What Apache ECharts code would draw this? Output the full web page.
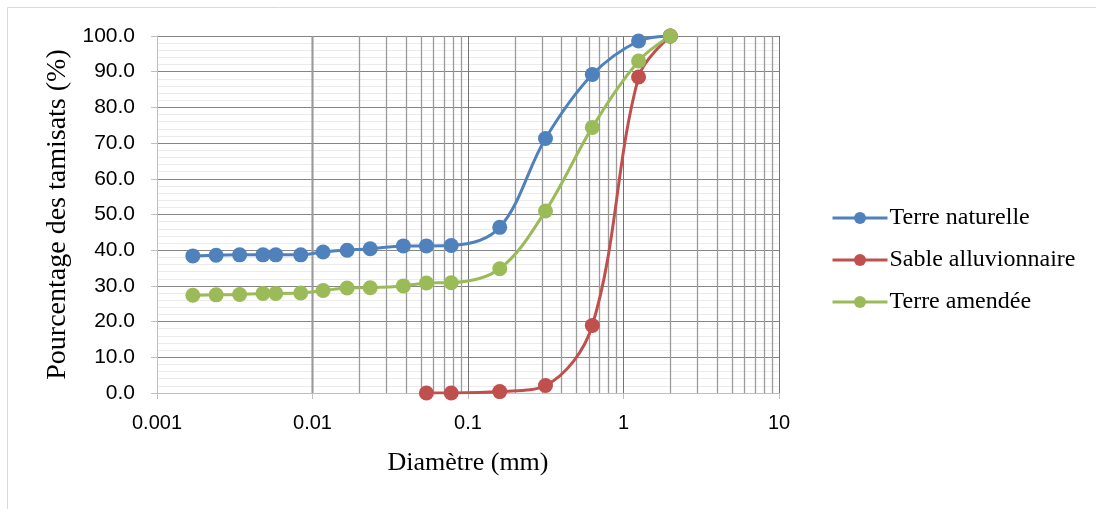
<!DOCTYPE html>
<html><head><meta charset="utf-8">
<script src="https://cdn.jsdelivr.net/npm/echarts@6/dist/echarts.min.js"></script>
<style>html,body{margin:0;padding:0;background:#fff}#c{width:1096px;height:509px}</style>
</head><body><div id="c"></div>
<script>
const seriesNames = ['Terre naturelle', 'Sable alluvionnaire', 'Terre amendée'];
const diamNaturelle = [0.0017, 0.0024, 0.0034, 0.0048, 0.0058, 0.0084, 0.0117, 0.0167, 0.0235, 0.0384, 0.054, 0.078, 0.16, 0.315, 0.63, 1.25, 2];
const valNaturelle  = [38.4, 38.6, 38.7, 38.7, 38.7, 38.7, 39.5, 40.0, 40.4, 41.2, 41.2, 41.3, 46.4, 71.3, 89.2, 98.6, 100];
const diamSable = [0.054, 0.078, 0.16, 0.315, 0.63, 1.25, 2];
const valSable  = [0.0, 0.0, 0.4, 2.1, 18.9, 88.5, 100];
const diamAmendee = [0.0017, 0.0024, 0.0034, 0.0048, 0.0058, 0.0084, 0.0117, 0.0167, 0.0235, 0.0384, 0.054, 0.078, 0.16, 0.315, 0.63, 1.25, 2];
const valAmendee  = [27.4, 27.5, 27.6, 27.9, 27.9, 28.0, 28.7, 29.4, 29.5, 30.0, 30.8, 30.9, 34.8, 51.0, 74.4, 93.0, 100];
const xTickLabels = ['0.001', '0.01', '0.1', '1', '10'];
const yTickLabels = ['0.0','10.0','20.0','30.0','40.0','50.0','60.0','70.0','80.0','90.0','100.0'];

const colors = ['#4f81bd', '#c0504d', '#9bbb59'];
// minor log gridline positions (2..9 within each decade)
const minorX = [];
for (let d = -3; d < 1; d++) for (let k = 2; k <= 9; k++) minorX.push(+(k * Math.pow(10, d)).toPrecision(3));

const pairs = (xs, ys) => xs.map((x, i) => [x, ys[i]]);
const serif = '"Liberation Serif", "Times New Roman", serif';
const sans = '"Liberation Sans", Arial, sans-serif';

function mkSeries(name, xs, ys, color) {
  return {
    name, type: 'line', data: pairs(xs, ys), smooth: 0.35, z: 5,
    symbol: 'circle', symbolSize: 15,
    itemStyle: { color }, lineStyle: { color, width: 3 }
  };
}

const chart = echarts.init(document.getElementById('c'), null, { renderer: 'canvas' });
chart.setOption({
  animation: false,
  backgroundColor: '#fff',
  graphic: [
    { type: 'line', shape: { x1: 7.5, y1: 7.5, x2: 7.5, y2: 509 }, style: { stroke: '#d9d9d9', lineWidth: 1 } },
    { type: 'line', shape: { x1: 7.5, y1: 7.5, x2: 1096, y2: 7.5 }, style: { stroke: '#d9d9d9', lineWidth: 1 } }
  ],
  grid: { left: 157, right: 317, top: 36, bottom: 116, containLabel: false },
  legend: {
    data: seriesNames, orient: 'vertical', left: 826, top: 201,
    itemWidth: 55, itemHeight: 15, itemGap: 18,
    lineStyle: { width: 3 },
    textStyle: { fontFamily: serif, fontSize: 24, color: '#000', padding: [0, 0, 0, -3] }
  },
  xAxis: {
    type: 'log', logBase: 10, min: 0.001, max: 10,
    name: 'Diamètre (mm)', nameLocation: 'middle', nameGap: 57,
    nameTextStyle: { fontFamily: serif, fontSize: 26, color: '#000' },
    axisLine: { show: true, onZero: false, lineStyle: { color: '#bfbfbf', width: 1 } },
    axisTick: { show: true, length: 6, lineStyle: { color: '#bfbfbf' } },
    axisLabel: { fontFamily: sans, fontSize: 20, color: '#000', margin: 20,
      formatter: v => { const i = Math.round(Math.log10(v)) + 3; return xTickLabels[i] !== undefined ? xTickLabels[i] : ''; } },
    splitLine: { show: true, lineStyle: { color: '#737373', width: 1 } }
  },
  yAxis: {
    type: 'value', min: 0, max: 100, interval: 10,
    name: 'Pourcentage des tamisats (%)', nameLocation: 'middle', nameGap: 77,
    nameTextStyle: { fontFamily: serif, fontSize: 28, color: '#000' },
    axisLine: { show: true, lineStyle: { color: '#bfbfbf', width: 1 } },
    axisTick: { show: true, length: 6, lineStyle: { color: '#bfbfbf' } },
    axisLabel: { fontFamily: sans, fontSize: 21, color: '#000', margin: 22,
      formatter: v => yTickLabels[Math.round(v / 10)] },
    splitLine: { show: true, lineStyle: { color: '#858585', width: 1 } },
    minorTick: { show: false, splitNumber: 5 },
    minorSplitLine: { show: true, lineStyle: { color: '#ebebeb', width: 1 } }
  },
  series: [
    {
      name: 'grid-minor', type: 'line', data: [], z: 1, silent: true,
      markLine: {
        silent: true, symbol: ['none', 'none'], label: { show: false },
        lineStyle: { color: '#9a9a9a', width: 1.3, type: 'solid' },
        data: minorX.map(v => ({ xAxis: v }))
      }
    },
    mkSeries(seriesNames[0], diamNaturelle, valNaturelle, colors[0]),
    mkSeries(seriesNames[1], diamSable, valSable, colors[1]),
    mkSeries(seriesNames[2], diamAmendee, valAmendee, colors[2])
  ]
});
</script></body></html>
